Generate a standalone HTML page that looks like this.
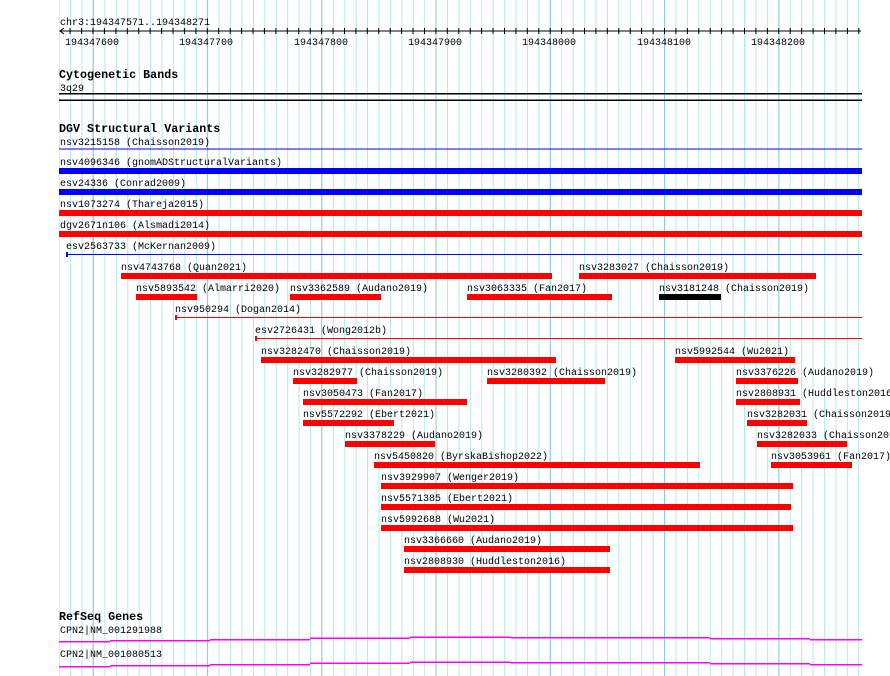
<!DOCTYPE html>
<html><head><meta charset="utf-8"><style>
html,body{margin:0;padding:0;background:#fff;overflow:hidden}
#g{position:absolute;left:59px;top:0;width:803px;height:676px;
background-image:linear-gradient(to right,#88c8ec 0,#88c8ec 1px,transparent 1px),linear-gradient(to right,#aeeaee 0,#aeeaee 1px,transparent 1px);
background-size:114.3px 676px,11.43px 676px;background-position:33.6px 0,-0.3px 0;background-repeat:repeat-x}
svg{position:absolute;left:0;top:0}
text{font-family:"Liberation Mono",monospace;font-size:10px;fill:#000}
.h{font-weight:bold;font-size:11.7px}
</style></head><body>
<div id="g"></div>
<svg width="890" height="676" xmlns="http://www.w3.org/2000/svg">
<text x="60" y="25">chr3:194347571..194348271</text>
<line x1="60" y1="31" x2="861" y2="31" stroke="#000"/>
<path d="M64 28 L60 31 L64 34" fill="none" stroke="#000"/>
<g stroke="#000">
<path d="M70.1 28v6M81.6 28v6M93 28v6M104.4 28v6M115.9 28v6M127.3 28v6M138.7 28v6M150.1 28v6M161.6 28v6M173 28v6M184.4 28v6M195.9 28v6M207.3 28v6M218.7 28v6M230.2 28v6M241.6 28v6M253 28v6M264.4 28v6M275.9 28v6M287.3 28v6M298.7 28v6M310.2 28v6M321.6 28v6M333 28v6M344.5 28v6M355.9 28v6M367.3 28v6M378.7 28v6M390.2 28v6M401.6 28v6M413 28v6M424.5 28v6M435.9 28v6M447.3 28v6M458.8 28v6M470.2 28v6M481.6 28v6M493 28v6M504.5 28v6M515.9 28v6M527.3 28v6M538.8 28v6M550.2 28v6M561.6 28v6M573.1 28v6M584.5 28v6M595.9 28v6M607.3 28v6M618.8 28v6M630.2 28v6M641.6 28v6M653.1 28v6M664.5 28v6M675.9 28v6M687.4 28v6M698.8 28v6M710.2 28v6M721.6 28v6M733.1 28v6M744.5 28v6M755.9 28v6M767.4 28v6M778.8 28v6M790.2 28v6M801.7 28v6M813.1 28v6M824.5 28v6M835.9 28v6M847.4 28v6M858.8 28v6"/>
</g>
<g text-anchor="middle">
<text x="92" y="45">194347600</text><text x="206" y="45">194347700</text><text x="321" y="45">194347800</text><text x="435" y="45">194347900</text><text x="549" y="45">194348000</text><text x="664" y="45">194348100</text><text x="778" y="45">194348200</text>
</g>
<text class="h" x="59" y="78">Cytogenetic Bands</text>
<text x="60" y="91">3q29</text>
<rect x="59" y="93" width="803" height="1.5" fill="#000"/>
<rect x="59" y="99.5" width="803" height="1.5" fill="#000"/>
<text class="h" x="59" y="132">DGV Structural Variants</text>
<text x="60" y="145">nsv3215158 (Chaisson2019)</text>
<rect x="59" y="148.5" width="803" height="1" fill="#00f"/>
<text x="60" y="165">nsv4096346 (gnomADStructuralVariants)</text>
<rect x="59" y="168" width="803" height="6" fill="#00f"/>
<text x="60" y="186">esv24336 (Conrad2009)</text>
<rect x="59" y="189" width="803" height="6" fill="#00f"/>
<text x="60" y="207">nsv1073274 (Thareja2015)</text>
<rect x="59" y="210" width="803" height="6" fill="#f00"/>
<text x="60" y="228">dgv2671n106 (Alsmadi2014)</text>
<rect x="59" y="231" width="803" height="6" fill="#f00"/>
<text x="66" y="249">esv2563733 (McKernan2009)</text>
<rect x="66" y="254" width="796" height="1" fill="#00f"/><rect x="66" y="252" width="2" height="5" fill="#00f"/>
<g fill="#f00">
<rect x="121" y="273" width="431" height="6"/><rect x="579" y="273" width="237" height="6"/>
<rect x="136" y="294" width="61" height="6"/><rect x="290" y="294" width="91" height="6"/><rect x="467" y="294" width="145" height="6"/>
<rect x="175" y="317" width="687" height="1"/><rect x="175" y="315" width="2" height="5"/>
<rect x="255" y="338" width="607" height="1"/><rect x="255" y="336" width="2" height="5"/>
<rect x="261" y="357" width="295" height="6"/><rect x="675" y="357" width="120" height="6"/>
<rect x="293" y="378" width="64" height="6"/><rect x="487" y="378" width="118" height="6"/><rect x="736" y="378" width="62" height="6"/>
<rect x="303" y="399" width="164" height="6"/><rect x="736" y="399" width="64" height="6"/>
<rect x="303" y="420" width="91" height="6"/><rect x="747" y="420" width="60" height="6"/>
<rect x="345" y="441" width="90" height="6"/><rect x="757" y="441" width="90" height="6"/>
<rect x="374" y="462" width="326" height="6"/><rect x="771" y="462" width="81" height="6"/>
<rect x="381" y="483" width="412" height="6"/>
<rect x="381" y="504" width="410" height="6"/>
<rect x="381" y="525" width="412" height="6"/>
<rect x="404" y="546" width="206" height="6"/>
<rect x="404" y="567" width="206" height="6"/>
</g>
<rect x="659" y="294" width="62" height="6" fill="#000"/>
<text x="121" y="270">nsv4743768 (Quan2021)</text><text x="579" y="270">nsv3283027 (Chaisson2019)</text>
<text x="136" y="291">nsv5893542 (Almarri2020)</text><text x="290" y="291">nsv3362589 (Audano2019)</text><text x="467" y="291">nsv3063335 (Fan2017)</text><text x="659" y="291">nsv3181248 (Chaisson2019)</text>
<text x="175" y="312">nsv950294 (Dogan2014)</text>
<text x="255" y="333">esv2726431 (Wong2012b)</text>
<text x="261" y="354">nsv3282470 (Chaisson2019)</text><text x="675" y="354">nsv5992544 (Wu2021)</text>
<text x="293" y="375">nsv3282977 (Chaisson2019)</text><text x="487" y="375">nsv3280392 (Chaisson2019)</text><text x="736" y="375">nsv3376226 (Audano2019)</text>
<text x="303" y="396">nsv3050473 (Fan2017)</text><text x="736" y="396">nsv2808931 (Huddleston2016)</text>
<text x="303" y="417">nsv5572292 (Ebert2021)</text><text x="747" y="417">nsv3282031 (Chaisson2019)</text>
<text x="345" y="438">nsv3378229 (Audano2019)</text><text x="757" y="438">nsv3282033 (Chaisson2019)</text>
<text x="374" y="459">nsv5450820 (ByrskaBishop2022)</text><text x="771" y="459">nsv3053961 (Fan2017)</text>
<text x="381" y="480">nsv3929907 (Wenger2019)</text>
<text x="381" y="501">nsv5571385 (Ebert2021)</text>
<text x="381" y="522">nsv5992688 (Wu2021)</text>
<text x="404" y="543">nsv3366660 (Audano2019)</text>
<text x="404" y="564">nsv2808930 (Huddleston2016)</text>
<text class="h" x="59" y="620">RefSeq Genes</text>
<text x="60" y="633">CPN2|NM_001291988</text>
<text x="60" y="657">CPN2|NM_001080513</text>
<g fill="#f0f">
<rect x="59" y="641" width="51" height="1.5"/><rect x="110" y="640" width="100" height="1.5"/><rect x="210" y="639" width="100" height="1.5"/><rect x="310" y="637.5" width="100" height="1.5"/><rect x="410" y="636.5" width="100" height="1.5"/><rect x="510" y="637" width="100" height="1.5"/><rect x="610" y="637" width="100" height="1.5"/><rect x="710" y="638" width="100" height="1.5"/><rect x="810" y="639" width="52" height="1.5"/>
<rect x="59" y="666" width="51" height="1.5"/><rect x="110" y="665" width="100" height="1.5"/><rect x="210" y="664" width="100" height="1.5"/><rect x="310" y="662.5" width="100" height="1.5"/><rect x="410" y="661.5" width="100" height="1.5"/><rect x="510" y="662" width="100" height="1.5"/><rect x="610" y="662" width="100" height="1.5"/><rect x="710" y="663" width="100" height="1.5"/><rect x="810" y="664" width="52" height="1.5"/>
</g>
</svg>
</body></html>
